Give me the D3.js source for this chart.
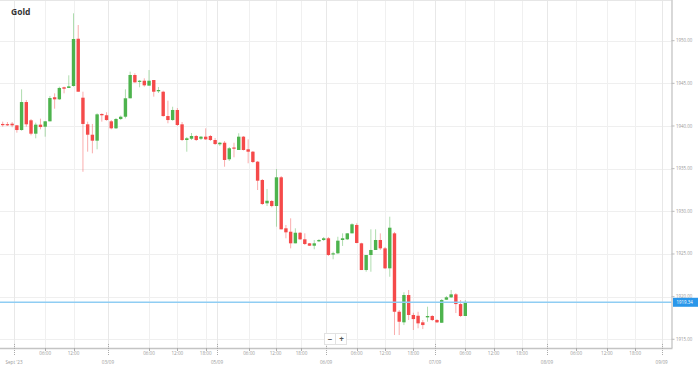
<!DOCTYPE html>
<html><head><meta charset="utf-8">
<script src="https://cdn.jsdelivr.net/npm/d3@7"></script>
<style>html,body{margin:0;padding:0;background:#fff;}svg{display:block;font-family:"Open Sans",Arial,sans-serif;}</style>
</head><body>
<script>
const title = "Gold";
const opens  = [1940.24,1940.22,1940.27,1940.08,1939.53,1942.81,1940.67,1939.10,1940.16,1939.92,1940.55,1943.37,1943.13,1944.54,1944.46,1944.69,1950.23,1943.32,1940.20,1938.98,1938.28,1941.41,1941.26,1940.55,1939.73,1940.82,1941.09,1943.25,1945.98,1945.19,1945.31,1944.73,1945.39,1944.07,1944.02,1941.17,1940.70,1941.88,1940.20,1938.36,1938.51,1938.83,1938.51,1938.75,1938.83,1938.36,1937.86,1938.04,1936.10,1937.48,1937.19,1938.75,1937.27,1936.99,1935.82,1933.67,1930.94,1931.21,1930.62,1933.99,1928.01,1927.61,1926.25,1927.49,1926.72,1926.25,1925.97,1926.48,1926.64,1926.84,1924.96,1925.08,1926.64,1926.72,1927.42,1928.40,1926.25,1923.12,1924.88,1925.47,1926.64,1925.66,1923.32,1927.42,1918.23,1916.99,1920.19,1917.85,1917.76,1916.99,1917.57,1917.73,1917.26,1916.94,1919.64,1919.92,1920.27,1919.13,1917.73];
const highs  = [1940.51,1940.47,1940.47,1940.12,1944.30,1943.05,1940.82,1940.39,1940.86,1940.59,1943.52,1943.83,1944.61,1944.61,1945.94,1953.21,1951.84,1944.02,1940.51,1940.24,1941.49,1941.49,1941.61,1940.70,1940.94,1941.23,1944.30,1946.37,1946.18,1945.39,1945.59,1946.56,1945.39,1944.57,1944.14,1942.97,1942.26,1942.11,1940.47,1938.71,1939.18,1938.95,1938.83,1939.73,1938.95,1938.59,1938.13,1938.24,1937.54,1938.04,1939.15,1938.83,1938.44,1937.07,1935.90,1933.79,1932.62,1931.33,1934.96,1934.14,1928.40,1929.18,1928.01,1927.58,1927.42,1926.29,1926.64,1926.75,1926.99,1926.99,1925.27,1927.02,1927.42,1927.46,1928.60,1928.60,1926.32,1924.88,1927.89,1927.89,1927.42,1925.82,1929.37,1927.58,1918.43,1920.51,1920.78,1918.11,1918.23,1917.26,1918.82,1917.85,1917.37,1919.72,1920.07,1920.78,1920.42,1919.60,1919.60];
const lows   = [1939.92,1940.00,1939.85,1939.22,1939.45,1939.92,1938.91,1938.56,1939.61,1938.75,1940.55,1942.03,1943.05,1943.83,1944.46,1944.61,1944.02,1934.64,1936.99,1936.80,1937.27,1940.51,1940.62,1939.61,1939.65,1940.70,1940.90,1943.25,1945.08,1944.54,1944.61,1944.73,1943.44,1943.87,1941.09,1940.32,1940.62,1940.00,1938.24,1936.99,1938.36,1938.24,1938.36,1938.36,1938.24,1937.77,1937.66,1935.23,1935.90,1936.33,1937.19,1937.13,1935.63,1935.66,1932.50,1930.74,1930.62,1930.47,1928.20,1927.89,1926.84,1925.66,1926.25,1926.64,1926.05,1925.94,1925.55,1926.40,1926.52,1924.76,1924.38,1925.00,1925.94,1926.64,1927.42,1926.25,1923.12,1922.92,1922.92,1925.47,1925.47,1923.24,1922.33,1915.50,1915.50,1916.67,1917.26,1916.09,1916.29,1916.20,1917.06,1917.14,1916.91,1916.91,1919.60,1919.84,1918.08,1917.61,1917.73];
const closes = [1940.17,1940.16,1940.08,1939.53,1942.81,1940.20,1939.10,1940.16,1939.88,1940.55,1943.28,1943.13,1944.46,1944.37,1944.65,1950.20,1944.02,1940.24,1938.98,1938.28,1941.37,1941.26,1940.70,1939.73,1940.82,1941.09,1943.25,1945.98,1945.12,1945.31,1944.77,1945.31,1944.02,1944.22,1941.17,1940.70,1941.88,1940.12,1938.36,1938.56,1938.83,1938.36,1938.75,1938.44,1938.36,1937.89,1938.04,1936.02,1937.39,1937.34,1938.75,1937.19,1936.99,1935.78,1933.59,1930.86,1931.24,1930.62,1933.99,1927.89,1927.54,1926.25,1927.49,1926.72,1926.17,1925.97,1926.25,1926.64,1926.84,1924.88,1925.08,1926.56,1926.84,1927.42,1928.48,1926.29,1923.12,1924.88,1925.47,1926.64,1925.66,1923.32,1928.08,1918.23,1917.06,1920.19,1917.85,1917.37,1916.87,1916.67,1917.73,1917.26,1916.99,1919.60,1919.92,1920.27,1919.13,1917.73,1919.34];
const lastPrice = 1919.34;
const priceTicks = [1915,1920,1925,1930,1935,1940,1945,1950];
const timeTickSlots  = [2.4,9,15,22.3,31,37,43,45.4,52.2,57.8,63.3,68.5,75,81,87,91.6,98,104,110,115.3,121.5,128,134,139.6];
const timeTickLabels = ["Sept '23","06:00","12:00","03/09","06:00","12:00","18:00","05/09","06:00","12:00","18:00","06/09","06:00","12:00","18:00","07/09","06:00","12:00","18:00","08/09","06:00","12:00","18:00","09/09"];
const timeTickIsDate = timeTickLabels.map(l => !/^\d\d:\d\d$/.test(l));

const W = 698, H = 367;
const plotRight = 671.5, axisY = 348;
const x = d3.scaleLinear().domain([0, 141.6]).range([2.7, 671.1]);
const y = d3.scaleLinear().domain([1915, 1950]).range([339.3, 40.7]);

const svg = d3.select("body").append("svg").attr("width", W).attr("height", H);
const green = "#4db34d", red = "#f54a4a";

// grid
svg.append("g").selectAll("line").data(priceTicks).join("line")
  .attr("x1", 0).attr("x2", plotRight).attr("y1", d => Math.round(y(d)) + 0.5).attr("y2", d => Math.round(y(d)) + 0.5)
  .attr("stroke", "#efefef").attr("stroke-width", 1);
svg.append("g").selectAll("line").data(timeTickSlots).join("line")
  .attr("x1", d => Math.round(x(d)) + 0.5).attr("x2", d => Math.round(x(d)) + 0.5).attr("y1", 0).attr("y2", axisY)
  .attr("stroke", (d, i) => timeTickIsDate[i] ? "#e8e8e8" : "#f0f0f0").attr("stroke-width", 1);
// top border
svg.append("line").attr("x1", 0).attr("x2", plotRight).attr("y1", 0.5).attr("y2", 0.5).attr("stroke", "#e6e6e6");

// candles
const idx = d3.range(closes.length);
const bw = 3.4;
const g = svg.append("g");
g.selectAll("line.wick").data(idx).join("line").attr("class", "wick")
  .attr("x1", i => x(i)).attr("x2", i => x(i)).attr("y1", i => y(highs[i])).attr("y2", i => y(lows[i]))
  .attr("stroke", i => closes[i] >= opens[i] ? green : red).attr("stroke-opacity", 0.45).attr("stroke-width", 1);
g.selectAll("rect").data(idx).join("rect")
  .attr("x", i => x(i) - bw / 2).attr("width", bw)
  .attr("y", i => y(Math.max(opens[i], closes[i])))
  .attr("height", i => Math.max(1.2, Math.abs(y(opens[i]) - y(closes[i]))))
  .attr("fill", i => closes[i] >= opens[i] ? green : red);

// current price line
svg.append("line").attr("x1", 0).attr("x2", plotRight).attr("y1", y(lastPrice)).attr("y2", y(lastPrice))
  .attr("stroke", "#8fcdf3").attr("stroke-width", 1.5);

// right axis
svg.append("line").attr("x1", plotRight + 0.5).attr("x2", plotRight + 0.5).attr("y1", 0).attr("y2", axisY)
  .attr("stroke", "#c4c4c4").attr("stroke-width", 1.3);
const ya = svg.append("g");
ya.selectAll("line").data(priceTicks).join("line")
  .attr("x1", plotRight).attr("x2", plotRight + 3).attr("y1", d => y(d)).attr("y2", d => y(d)).attr("stroke", "#bbb");
ya.selectAll("text").data(priceTicks).join("text")
  .attr("x", plotRight + 4.5).attr("y", d => y(d) + 1.5).attr("font-size", 4.4).attr("fill", "#999")
  .text(d => d3.format(".2f")(d));
svg.append("rect").attr("x", plotRight + 1.5).attr("y", y(lastPrice) - 4.5).attr("width", W - plotRight - 1.5).attr("height", 9)
  .attr("fill", "#2a97ea");
svg.append("text").attr("x", plotRight + 5).attr("y", y(lastPrice) + 1.6).attr("font-size", 4.4).attr("fill", "#fff")
  .text(d3.format(".2f")(lastPrice));

// bottom axis
svg.append("line").attr("x1", 0).attr("x2", plotRight + 1).attr("y1", axisY + 0.5).attr("y2", axisY + 0.5)
  .attr("stroke", "#c4c4c4").attr("stroke-width", 1.3);
const xa = svg.append("g");
xa.selectAll("line").data(timeTickSlots).join("line")
  .attr("x1", d => Math.round(x(d)) + 0.5).attr("x2", d => Math.round(x(d)) + 0.5)
  .attr("y1", (d, i) => timeTickIsDate[i] ? axisY - 4 : axisY).attr("y2", (d, i) => timeTickIsDate[i] ? axisY + 8 : axisY + 3)
  .attr("stroke", "#aaa").attr("stroke-dasharray", (d, i) => timeTickIsDate[i] ? "1,1" : null);
xa.selectAll("text").data(timeTickSlots).join("text")
  .attr("x", d => x(d)).attr("y", (d, i) => timeTickIsDate[i] ? 363.5 : 355)
  .attr("text-anchor", "middle").attr("font-size", 4.6).attr("fill", "#999")
  .text((d, i) => timeTickLabels[i]);

// zoom buttons
const zb = svg.append("g");
zb.append("rect").attr("x", 324.5).attr("y", 333.5).attr("width", 22).attr("height", 11).attr("fill", "#fff").attr("stroke", "#e2e2e2");
zb.append("line").attr("x1", 335.5).attr("x2", 335.5).attr("y1", 334).attr("y2", 344).attr("stroke", "#e2e2e2");
zb.append("text").attr("x", 330).attr("y", 341.5).attr("text-anchor", "middle").attr("font-size", 8).attr("font-weight", "bold").attr("fill", "#555").text("−");
zb.append("text").attr("x", 341.5).attr("y", 341.8).attr("text-anchor", "middle").attr("font-size", 8).attr("font-weight", "bold").attr("fill", "#555").text("+");

// title
svg.append("text").attr("x", 11).attr("y", 15).attr("font-size", 8.5).attr("font-weight", "bold").attr("fill", "#333").text(title);
</script>
</body></html>
